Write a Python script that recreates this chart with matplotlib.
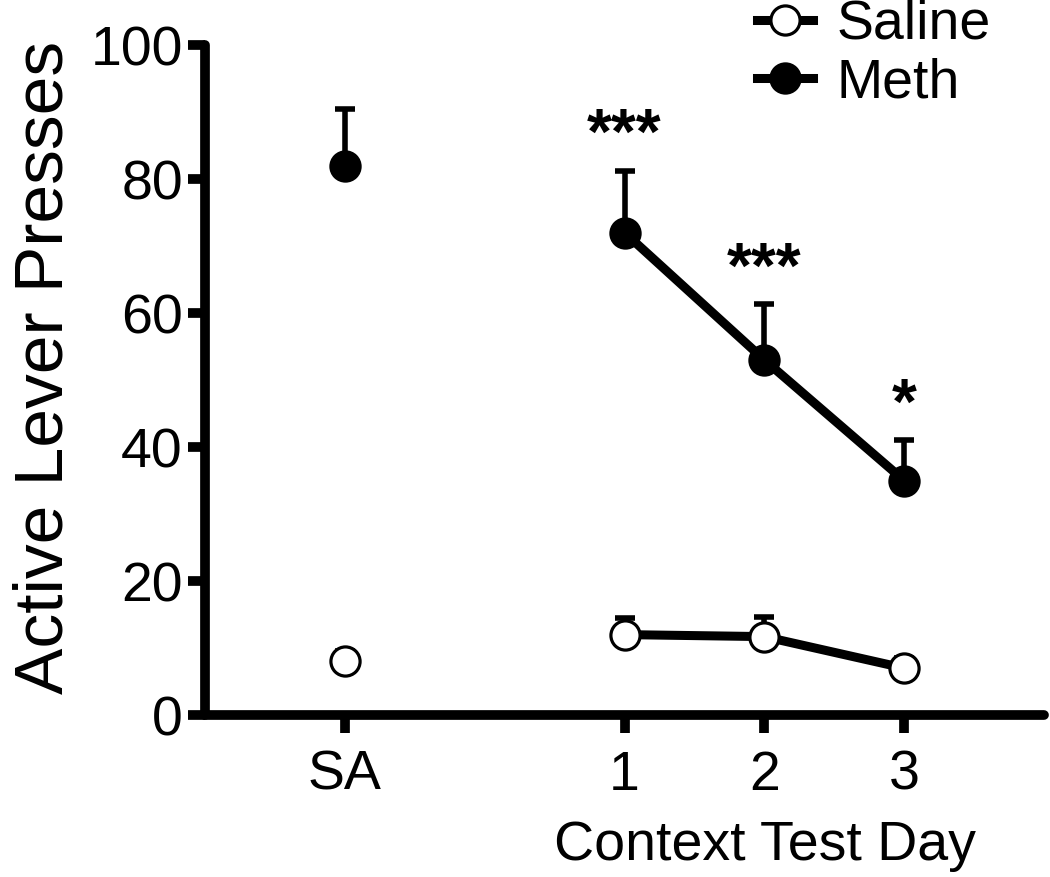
import matplotlib
matplotlib.use("Agg")
import matplotlib.pyplot as plt
import numpy as np

plt.rcParams['font.family'] = ['Liberation Sans', 'DejaVu Sans']

# positions: SA sits apart from the three context test days
x_labels = ['SA', '1', '2', '3']
x_pos = [-1, 1, 2, 3]

meth_mean = [82, 72, 53, 35]
meth_sem = [8.4, 9.2, 8.3, 6.0]
saline_mean = [8, 12, 11.7, 7]
saline_sem = [1.5, 2.5, 3.0, 1.5]

stars = ['***', '***', '*']
star_days = [1, 2, 3]

fig = plt.figure(figsize=(10.5, 8.77), dpi=100)
ax = fig.add_axes([205 / 1050, 1 - 715 / 877, (1044 - 205) / 1050, (715 - 45) / 877])

lw = 6.5
ms = 21

def draw_group(mean, sem, face, label):
    # upper-only error bars, GraphPad style
    ax.errorbar(x_pos, mean, yerr=[np.zeros(len(sem)), sem], fmt='none',
                ecolor='black', elinewidth=4, capsize=7, capthick=4, zorder=2)
    # SA point is not connected to the test days
    ax.plot(x_pos[:1], mean[:1], 'o', color='black', mfc=face, mec='black',
            ms=ms, mew=2.3, zorder=3)
    ax.plot(x_pos[1:], mean[1:], '-o', color='black', mfc=face, mec='black',
            ms=ms, mew=2.3, lw=lw, zorder=3, label=label)

draw_group(saline_mean, saline_sem, 'white', 'Saline')
draw_group(meth_mean, meth_sem, 'black', 'Meth')

for d, s in zip(star_days, stars):
    i = x_pos.index(d)
    ax.text(d, meth_mean[i] + meth_sem[i] + 2.5, s, ha='center', va='baseline',
            fontsize=46, fontweight='bold')

ax.set_xlim(-2, 4)
ax.set_ylim(0, 100)
ax.set_xticks(x_pos)
ax.set_xticklabels(x_labels)
ax.set_yticks([0, 20, 40, 60, 80, 100])

for side in ['top', 'right']:
    ax.spines[side].set_visible(False)
for side in ['left', 'bottom']:
    ax.spines[side].set_linewidth(7)
    ax.spines[side].set_capstyle('round')

ax.tick_params(axis='y', direction='out', length=12, width=7, pad=4, labelsize=40)
ax.tick_params(axis='x', direction='out', length=13, width=7, pad=12, labelsize=40)

ax.set_ylabel('Active Lever Presses', fontsize=50)
ax.yaxis.set_label_coords(-0.153, 0.519)
ax.set_xlabel('Context Test Day', fontsize=40)
ax.xaxis.set_label_coords(0.667, -0.157)

ax.legend(loc='center left', bbox_to_anchor=(757 / 1050, 1 - 54 / 877),
          bbox_transform=fig.transFigure, frameon=False, fontsize=40,
          handlelength=1.0, handletextpad=0.43, borderpad=0, borderaxespad=0,
          labelspacing=0.11)

fig.savefig('out.png', dpi=100)
